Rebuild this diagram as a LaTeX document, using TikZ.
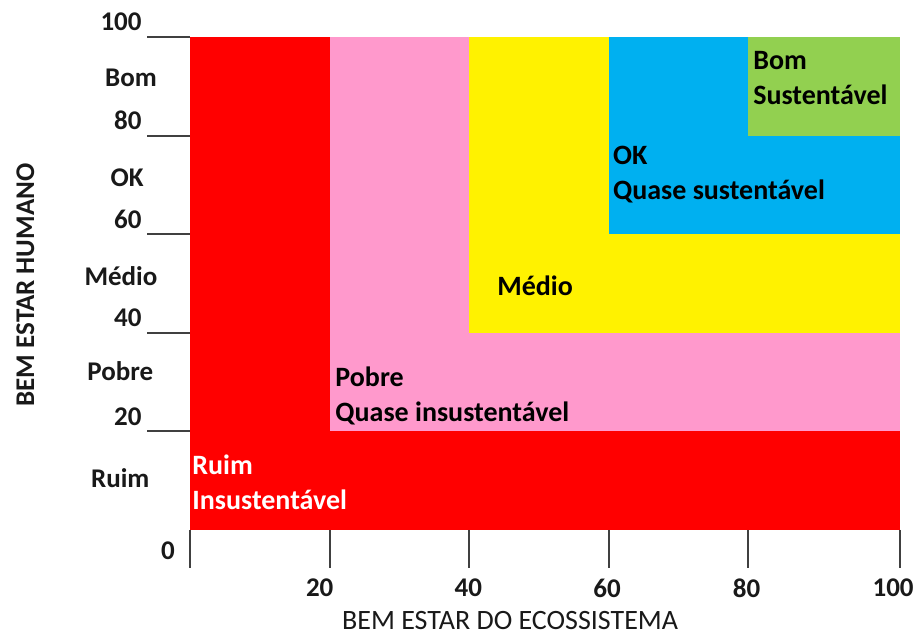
\documentclass[tikz,border=0pt]{standalone}
\usepackage{fontspec}
\setmainfont{Carlito}
\definecolor{pinkzone}{RGB}{255,153,204}
\definecolor{bluezone}{RGB}{0,176,240}
\definecolor{greenzone}{RGB}{146,208,80}
\begin{document}
\begin{tikzpicture}[x=3.4875pt,y=2.465pt,
	zone/.style={anchor=west,align=left,inner sep=0pt,font=\bfseries\fontsize{14}{17.5}\selectfont},
	tickline/.style={line width=1pt,draw=black!75},
	ticklabel/.style={inner sep=0pt,font=\bfseries\fontsize{13.5}{15}\selectfont,text=black!90},
	axistitle/.style={inner sep=0pt,font=\fontsize{14}{15}\selectfont,text=black!90}]
	\def\xend{101.8}
	\useasboundingbox (-27.24,-21.1) rectangle (104.37,107.5);
	\fill[red] (0,0) rectangle (\xend,100);
	\fill[pinkzone] (20,20) rectangle (\xend,100);
	\fill[yellow] (40,40) rectangle (\xend,100);
	\fill[bluezone] (60,60) rectangle (\xend,100);
	\fill[greenzone] (80,80) rectangle (\xend,100);
	\node[zone,text=white] (ruim) at (0.29,9.75) {Ruim\\Insustentável};
	\node[zone] (pobre) at (20.8,27.15) {Pobre\\Quase insustentável};
	\node[zone] (medio) at (44.0,49.5) {Médio};
	\node[zone] (ok) at (60.6,72.05) {OK\\Quase sustentável};
	\node[zone] (bom) at (80.7,91.75) {Bom\\Sustentável};
	\foreach \v in {20,40,...,100}{
		\draw[tickline] (-6.16,\v) -- (0,\v);
		\node[ticklabel,anchor=east] (ny\v) at (-6.88,\v+3) {\v};
	}
	\foreach \x in {0,20,40,60,80,\xend}{
		\draw[tickline] (\x,0) -- (\x,-7.7);
	}
	\foreach \v/\x in {20/18.6,40/39.9,60/59.8,80/79.8,100/100.8}{
		\node[ticklabel] (nx\v) at (\x,-11.8) {\v};
	}
	\node[ticklabel] (zero) at (-3.15,-4.26) {0};
	\foreach \t/\x/\y [count=\i] in {Ruim/-10.0/10.5,Pobre/-10.0/32.2,Médio/-9.9/51.5,OK/-9.03/71.4,Bom/-8.46/91.7}{
		\node[ticklabel] (band\i) at (\x,\y) {\t};
	}
	\node[axistitle,anchor=base] (xtitle) at (45.9,-20.2) {BEM ESTAR DO ECOSSISTEMA};
	\node[axistitle,font=\bfseries\fontsize{13.5}{15}\selectfont,rotate=90] (ytitle) at (-23.6,49.7) {BEM ESTAR HUMANO};
\end{tikzpicture}
\end{document}
